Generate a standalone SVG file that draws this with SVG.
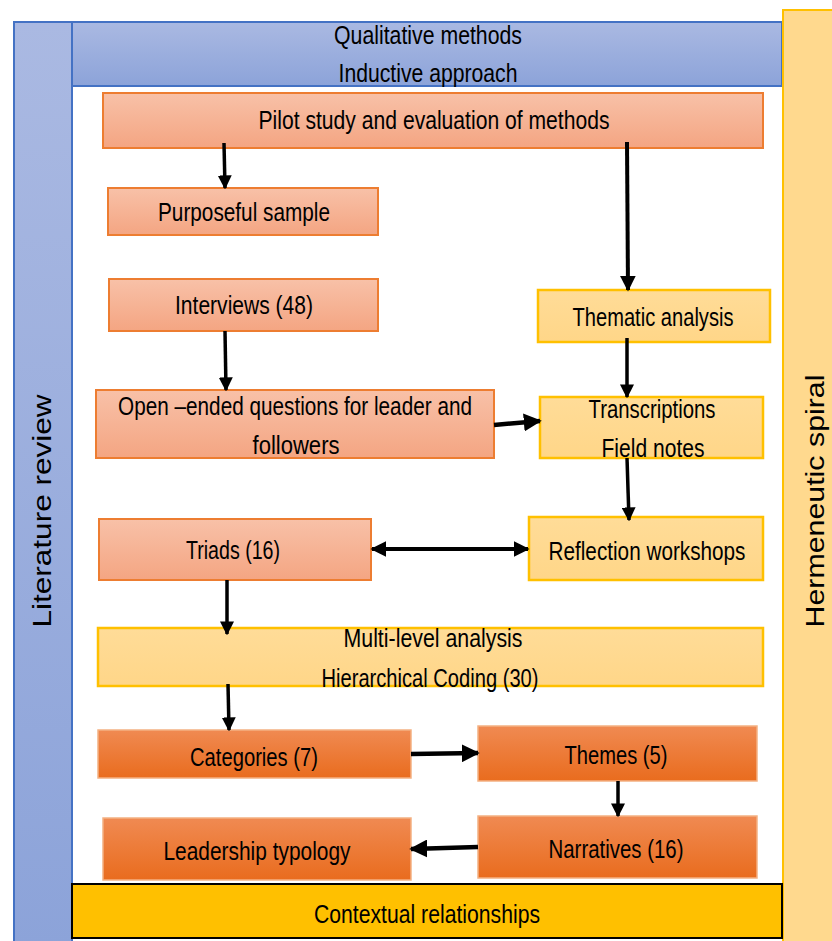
<svg xmlns="http://www.w3.org/2000/svg" width="832" height="941" viewBox="0 0 832 941">
<defs>
<linearGradient id="gBlue" x1="0" y1="0" x2="0" y2="1"><stop offset="0" stop-color="#AAB9E2"/><stop offset="1" stop-color="#8CA3D9"/></linearGradient>
<linearGradient id="gSal" x1="0" y1="0" x2="0" y2="1"><stop offset="0" stop-color="#F8C1A8"/><stop offset="1" stop-color="#F4A582"/></linearGradient>
<linearGradient id="gOr" x1="0" y1="0" x2="0" y2="1"><stop offset="0" stop-color="#F08A52"/><stop offset="1" stop-color="#E96C1E"/></linearGradient>
<linearGradient id="gYel" x1="0" y1="0" x2="0" y2="1"><stop offset="0" stop-color="#FFDC98"/><stop offset="1" stop-color="#FFD688"/></linearGradient>
<marker id="ah" viewBox="0 0 10 10" refX="9" refY="5" markerWidth="4" markerHeight="4" orient="auto-start-reverse" markerUnits="strokeWidth"><path d="M0,0 L10,5 L0,10 z" fill="#000"/></marker>
</defs>
<style>
text{font-family:"Liberation Sans",Arial,sans-serif;font-size:25px;fill:#000;text-anchor:middle}
.sal{fill:url(#gSal);stroke:#ED7D31;stroke-width:2}
.or{fill:url(#gOr);stroke:#F4B183;stroke-width:1.5}
.yel{fill:url(#gYel);stroke:#FFC000;stroke-width:2.5}
.c line{stroke:#000;stroke-width:3.5;marker-end:url(#ah)}
</style>
<rect width="832" height="941" fill="#fff"/>
<g id="literature-review">
<rect x="14" y="22" width="58" height="925" fill="url(#gBlue)" stroke="#4472C4" stroke-width="2"/>
<text transform="translate(51,511) rotate(-90)" textLength="233" lengthAdjust="spacingAndGlyphs">Literature review</text>
</g>
<g id="qualitative-methods">
<rect x="72" y="22" width="710" height="64" fill="url(#gBlue)" stroke="#4472C4" stroke-width="2"/>
<text x="428" y="44" textLength="188" lengthAdjust="spacingAndGlyphs">Qualitative methods</text>
<text x="428" y="82" textLength="179" lengthAdjust="spacingAndGlyphs">Inductive approach</text>
</g>
<g id="hermeneutic-spiral">
<rect x="783" y="10" width="60" height="940" fill="#FFD98E" stroke="#FFC000" stroke-width="2"/>
<text transform="translate(824,501) rotate(-90)" textLength="253" lengthAdjust="spacingAndGlyphs">Hermeneutic spiral</text>
</g>
<g id="contextual-relationships">
<rect x="72" y="884" width="710" height="54" fill="#FFC000" stroke="#000" stroke-width="2"/>
<text x="427" y="923" textLength="226" lengthAdjust="spacingAndGlyphs">Contextual relationships</text>
</g>
<g id="pilot-study">
<rect class="sal" x="103" y="93" width="660" height="55"/>
<text x="434" y="129" textLength="351" lengthAdjust="spacingAndGlyphs">Pilot study and evaluation of methods</text>
</g>
<g id="purposeful-sample">
<rect class="sal" x="108" y="188" width="270" height="47"/>
<text x="244" y="221" textLength="172" lengthAdjust="spacingAndGlyphs">Purposeful sample</text>
</g>
<g id="interviews">
<rect class="sal" x="109" y="279" width="269" height="52"/>
<text x="244" y="314" textLength="138" lengthAdjust="spacingAndGlyphs">Interviews (48)</text>
</g>
<g id="open-ended">
<rect class="sal" x="96" y="390" width="398" height="68"/>
<text x="295" y="415" textLength="354" lengthAdjust="spacingAndGlyphs">Open –ended questions for leader and</text>
<text x="296" y="454" textLength="87" lengthAdjust="spacingAndGlyphs">followers</text>
</g>
<g id="thematic-analysis">
<rect class="yel" x="538" y="290" width="232" height="52"/>
<text x="653" y="326" textLength="161" lengthAdjust="spacingAndGlyphs">Thematic analysis</text>
</g>
<g id="transcriptions">
<rect class="yel" x="540" y="397" width="223" height="61"/>
<text x="652" y="418" textLength="127" lengthAdjust="spacingAndGlyphs">Transcriptions</text>
<text x="653" y="457" textLength="103" lengthAdjust="spacingAndGlyphs">Field notes</text>
</g>
<g id="triads">
<rect class="sal" x="99" y="519" width="272" height="61"/>
<text x="233" y="559" textLength="94" lengthAdjust="spacingAndGlyphs">Triads (16)</text>
</g>
<g id="reflection-workshops">
<rect class="yel" x="529" y="517" width="234" height="63"/>
<text x="647" y="560" textLength="197" lengthAdjust="spacingAndGlyphs">Reflection workshops</text>
</g>
<g id="multi-level">
<rect class="yel" x="98" y="628" width="665" height="58"/>
<text x="433" y="647" textLength="179" lengthAdjust="spacingAndGlyphs">Multi-level analysis</text>
<text x="430" y="687" textLength="217" lengthAdjust="spacingAndGlyphs">Hierarchical Coding (30)</text>
</g>
<g id="categories">
<rect class="or" x="98" y="730" width="313" height="48"/>
<text x="254" y="766" textLength="128" lengthAdjust="spacingAndGlyphs">Categories (7)</text>
</g>
<g id="themes">
<rect class="or" x="478" y="726" width="279" height="55"/>
<text x="616" y="764" textLength="103" lengthAdjust="spacingAndGlyphs">Themes (5)</text>
</g>
<g id="leadership-typology">
<rect class="or" x="103" y="818" width="308" height="62"/>
<text x="257" y="860" textLength="187" lengthAdjust="spacingAndGlyphs">Leadership typology</text>
</g>
<g id="narratives">
<rect class="or" x="478" y="816" width="279" height="62"/>
<text x="616" y="858" textLength="135" lengthAdjust="spacingAndGlyphs">Narratives (16)</text>
</g>
<g id="connectors" class="c">
<line x1="224" y1="143" x2="225" y2="188"/>
<line x1="627" y1="142" x2="628" y2="290" style="stroke-width:4"/>
<line x1="225" y1="331" x2="226" y2="390"/>
<line x1="627" y1="338" x2="627" y2="397"/>
<line x1="494" y1="425" x2="540" y2="421" style="stroke-width:4.5"/>
<line x1="627" y1="458" x2="629" y2="520"/>
<line x1="372" y1="549" x2="528" y2="549" style="marker-start:url(#ah);stroke-width:4"/>
<line x1="227" y1="580" x2="227" y2="634"/>
<line x1="228" y1="684" x2="229" y2="730"/>
<line x1="411" y1="754" x2="478" y2="753" style="stroke-width:4.5"/>
<line x1="618" y1="781" x2="618" y2="816"/>
<line x1="478" y1="847" x2="411" y2="849" style="stroke-width:4.5"/>
</g>
</svg>
